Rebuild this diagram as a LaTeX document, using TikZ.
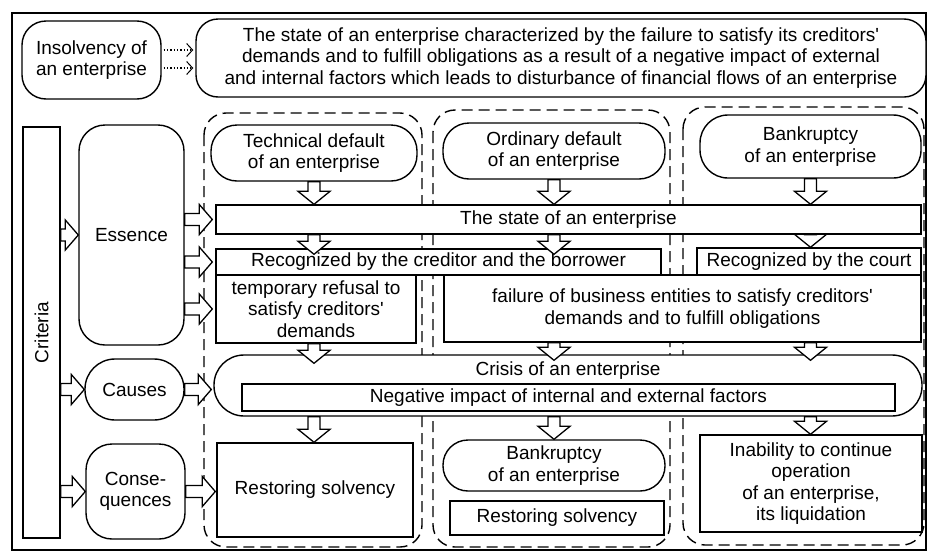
\documentclass[tikz,border=0pt]{standalone}
\usepackage{fontspec}
\setmainfont{Liberation Sans}
\usetikzlibrary{calc,arrows.meta}
\tikzset{
  lbl/.style={font=\fontsize{19}{21.5}\selectfont, align=center, inner sep=0pt},
  box/.style={draw, line width=1.4pt, fill=white, rectangle, lbl},
  rbox/.style={box, rounded corners=#1},
  colbox/.style={draw, line width=1.4pt, dash pattern=on 11pt off 6pt, rounded corners=22pt},
  harrow/.style={draw, line width=1.3pt, fill=white, line join=miter,
    to path={let \p1=(\tikztostart), \p2=(\tikztotarget) in
      (\x1,\y1+6pt) -- (\x2-13pt,\y1+6pt) -- (\x2-13pt,\y1+15pt) -- (\x2,\y1)
      -- (\x2-13pt,\y1-15pt) -- (\x2-13pt,\y1-6pt) -- (\x1,\y1-6pt) -- cycle}},
  varrow/.style={draw, line width=1.3pt, fill=white, line join=miter,
    to path={let \p1=(\tikztostart), \p2=(\tikztotarget) in
      (\x1-6pt,\y1) -- (\x1-6pt,\y2+13pt) -- (\x1-16pt,\y2+13pt) -- (\x1,\y2)
      -- (\x1+16pt,\y2+13pt) -- (\x1+6pt,\y2+13pt) -- (\x1+6pt,\y1) -- cycle}},
  dotarrow/.style={dotted, line width=1.3pt, -{Straight Barb[length=6pt,width=13pt,line width=1pt]}}
}
\begin{document}
\begin{tikzpicture}[x=1pt,y=-1pt]
\useasboundingbox (0,0) rectangle (928,552);
% outer frame
\draw[line width=1.4pt] (12,13) rectangle (926,550);
% dashed columns
\draw[colbox] (204,113) rectangle (422,547);
\draw[colbox] (433,110) rectangle (670,547);
\draw[colbox] (683,107) rectangle (924,545);

% top row
\node[rbox=24pt, minimum width=139pt, minimum height=78pt] (ins) at (91.5,60) {Insolvency of\\an enterprise};
\node[rbox=22pt, minimum width=730pt, minimum height=78pt] (def) at (561,58)
  {The state of an enterprise characterized by the failure to satisfy its creditors\textquotesingle\\
   demands and to fulfill obligations as a result of a negative impact of external\\
   and internal factors which leads to disturbance of financial flows of an enterprise};
\draw[dotarrow] ($(ins.east)+(2,-10)$) -- ($(def.west)+(-2,-8)$);
\draw[dotarrow] ($(ins.east)+(2,8)$) -- ($(def.west)+(-2,10)$);

% criteria
\node[box, minimum width=37pt, minimum height=411pt] (crit) at (41.5,332.5) {};
\node[lbl, rotate=90] (crittxt) at (crit.center) {Criteria};
\node[rbox=26pt, minimum width=105pt, minimum height=220pt] (ess) at (131.5,235) {Essence};
\node[rbox=30pt, minimum width=99pt, minimum height=61pt] (cau) at (134.5,389.5) {Causes};
\node[rbox=26pt, minimum width=99pt, minimum height=95pt] (con) at (135.5,491.5) {Conse-\\quences};

% column heads
\node[rbox=26pt, minimum width=206pt, minimum height=56pt] (tech) at (314,153) {Technical default\\of an enterprise};
\node[rbox=26pt, minimum width=222pt, minimum height=56pt] (ord) at (554,151) {Ordinary default\\of an enterprise};
\node[rbox=28pt, minimum width=221pt, minimum height=63pt] (bank) at (810.5,146.5) {Bankruptcy\\of an enterprise};

% rows
\node[box, minimum width=705pt, minimum height=29pt] (state) at (568.5,219.5) {The state of an enterprise};
\node[box, minimum width=445pt, minimum height=26pt] (rec1) at (438.5,262) {Recognized by the creditor and the borrower};
\node[box, minimum width=224pt, minimum height=27pt] (rec2) at (809,261.5) {Recognized by the court};
\node[box, minimum width=200pt, minimum height=68pt] (temp) at (316,309) {temporary refusal to\\satisfy creditors\textquotesingle\\demands};
\node[box, minimum width=477pt, minimum height=67pt] (fail) at (682.5,308.5) {failure of business entities to satisfy creditors\textquotesingle\\demands and to fulfill obligations};

\node[rbox=30pt, minimum width=708pt, minimum height=61pt] (crisis) at (568,385.5) {};
\node[lbl] (crisistxt) at (568,371) {Crisis of an enterprise};
\node[box, minimum width=653pt, minimum height=27pt] (neg) at (568.5,397.5) {Negative impact of internal and external factors};

\node[box, minimum width=196pt, minimum height=94pt] (rest1) at (315,490) {Restoring solvency};
\node[rbox=25pt, minimum width=222pt, minimum height=51pt] (bank2) at (554,465.5) {Bankruptcy\\of an enterprise};
\node[box, minimum width=214pt, minimum height=34pt] (rest2) at (557,518) {Restoring solvency};
\node[box, minimum width=222pt, minimum height=97pt] (inab) at (811,483.5) {Inability to continue\\operation\\of an enterprise,\\its liquidation};

% horizontal block arrows
\draw[harrow] (crit.east |- ess.west) to (ess.west);
\draw[harrow] (crit.east |- cau.west) to (cau.west);
\draw[harrow] (crit.east |- con.west) to (con.west);
\draw[harrow] (ess.east |- state.west) to ($(state.west)+(-3,0)$);
\draw[harrow] (ess.east |- rec1.west) to ($(rec1.west)+(-3,0)$);
\draw[harrow] (ess.east |- temp.west) to ($(temp.west)+(-3,0)$);
\draw[harrow] (cau.east) to ($(crisis.west |- cau.east)+(-2,0)$);
\draw[harrow] (con.east) to ($(rest1.west |- con.east)+(-1,0)$);

% vertical block arrows, column 1
\draw[varrow] (tech.south) to (tech.south |- state.north);
\draw[varrow] (tech.south |- state.south) to ($(tech.south |- rec1.north)+(0,6)$);
\draw[varrow] (tech.south |- temp.south) to ($(tech.south |- crisis.north)+(0,9)$);
\draw[varrow] (tech.south |- crisis.south) to (tech.south |- rest1.north);
% column 2
\draw[varrow] (ord.south) to (ord.south |- state.north);
\draw[varrow] (ord.south |- state.south) to ($(ord.south |- rec1.north)+(0,6)$);
\draw[varrow] (ord.south |- fail.south) to ($(ord.south |- crisis.north)+(0,6)$);
\draw[varrow] (ord.south |- crisis.south) to (ord.south |- bank2.north);
% column 3
\draw[varrow] (bank.south) to (bank.south |- state.north);
\draw[varrow] (bank.south |- state.south) to (bank.south |- rec2.north);
\draw[varrow] (bank.south |- fail.south) to ($(bank.south |- crisis.north)+(0,6)$);
\draw[varrow] (bank.south |- crisis.south) to (bank.south |- inab.north);
\end{tikzpicture}
\end{document}
